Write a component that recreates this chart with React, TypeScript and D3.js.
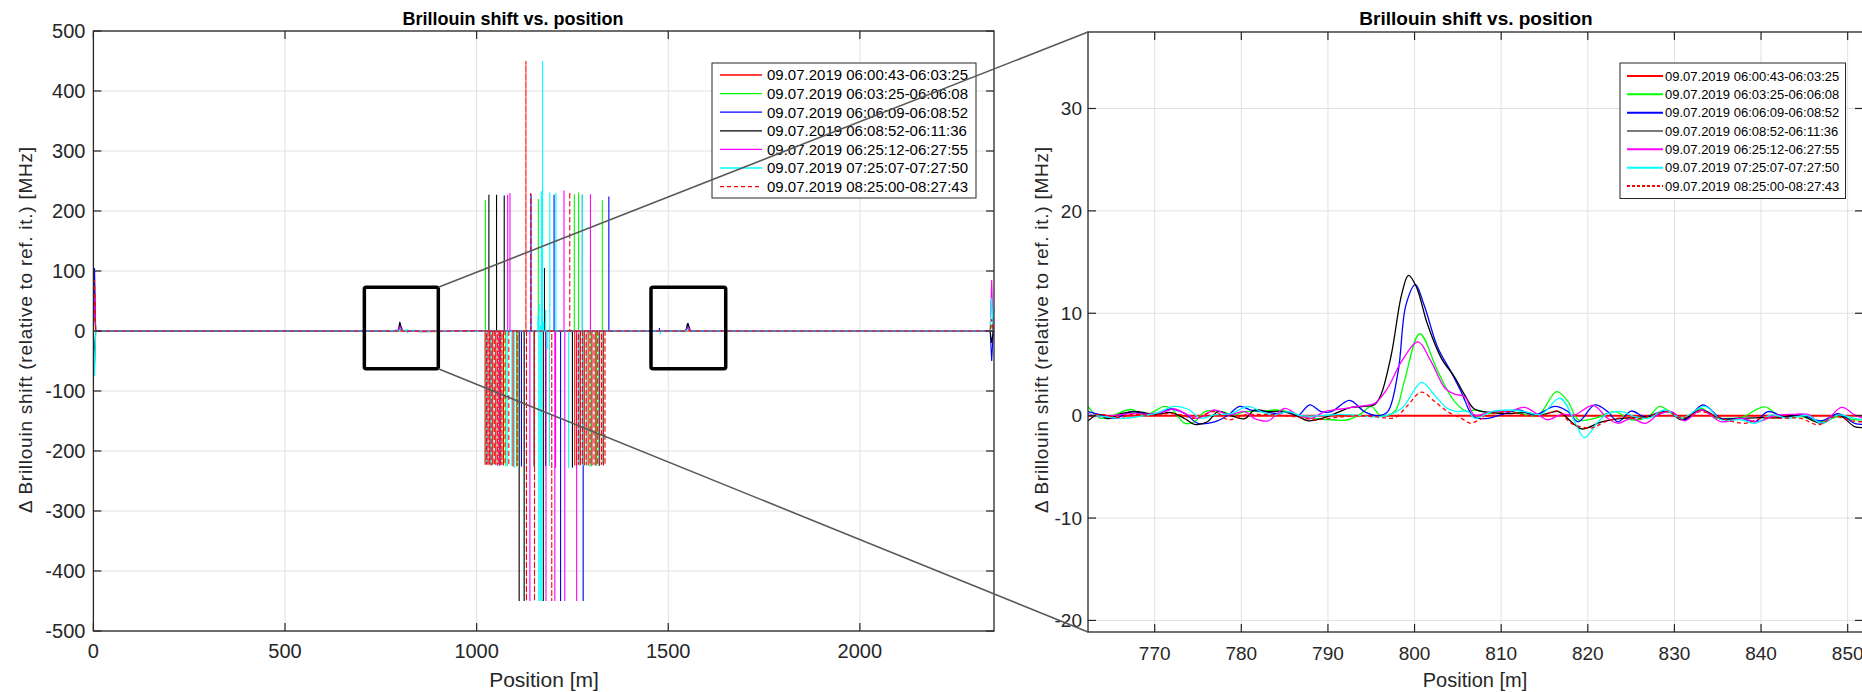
import React, { useEffect, useRef } from "react";
import * as d3 from "d3";

type Pt = [number, number];

const LEGEND_LABELS = [
  "09.07.2019 06:00:43-06:03:25",
  "09.07.2019 06:03:25-06:06:08",
  "09.07.2019 06:06:09-06:08:52",
  "09.07.2019 06:08:52-06:11:36",
  "09.07.2019 06:25:12-06:27:55",
  "09.07.2019 07:25:07-07:27:50",
  "09.07.2019 08:25:00-08:27:43",
];
const COLORS = ["#ff0000", "#00ff00", "#0000ff", "#000000", "#ff00ff", "#00ffff", "#ff0000"];
const DASHED = [false, false, false, false, false, false, true];

const OVERVIEW_X_TICKS = [0, 500, 1000, 1500, 2000];
const OVERVIEW_Y_TICKS = [-500, -400, -300, -200, -100, 0, 100, 200, 300, 400, 500];
const DETAIL_X_TICKS = [770, 780, 790, 800, 810, 820, 830, 840, 850];
const DETAIL_Y_TICKS = [-20, -10, 0, 10, 20, 30];

// zoomed section, position [m] / shift [MHz]
const DETAIL_RED: Pt[] = [[762.3, 0], [851.8, 0]];
const DETAIL_GREEN: Pt[] = [[762.3,0.9],[763.8,-0.26],[767.3,0.6],[768.8,0],[771.1,0.9],[771.9,0.7],[773.5,-0.75],[774.6,-0.6],[775.8,0.4],[777.7,0.4],[779.2,0.07],[780.4,0.4],[782.3,0.4],[783.8,0.55],[785.4,0.4],[786.9,-0.1],[789.2,-0.33],[792.3,-0.4],[793.8,0.2],[795.0,0.9],[796.1,0],[797.7,0.4],[798.8,3.3],[800.6,8.0],[802.7,4.3],[804.6,1.4],[806.1,0.4],[807.0,0.55],[808.9,0.2],[810.8,0.45],[812.7,0.1],[814.3,0.07],[816.4,2.35],[817.7,1.4],[818.9,-0.4],[820.8,-0.26],[823.1,0.4],[825.0,-0.4],[827.0,-0.1],[828.3,0.9],[830.0,0.07],[831.2,-0.26],[833.1,0.7],[834.6,-0.2],[836.2,-0.26],[837.7,-0.2],[840.4,0.85],[842.3,-0.1],[844.6,-0.1],[847.0,-0.6],[848.9,-0.1],[850.8,-0.4],[851.8,-0.4]];
const DETAIL_BLUE: Pt[] = [[762.3,0.4],[763.8,0.07],[765.4,-0.26],[767.3,0.4],[768.8,0.2],[770.4,0.2],[771.9,0.65],[773.5,0.2],[775.0,-0.75],[776.9,-0.6],[778.5,0.07],[779.8,0.9],[781.1,0.55],[782.7,0.4],[784.2,0.2],[785.4,0.4],[786.5,0],[787.9,1.05],[789.2,0.4],[790.4,0.4],[792.5,1.5],[794.2,0.4],[795.8,0],[796.9,0.4],[798.1,4.3],[799.0,10.8],[800.1,12.8],[801.1,10.8],[802.7,6.6],[804.2,4.3],[805.4,2.3],[806.5,0.2],[807.0,-0.2],[808.5,-0.26],[810.4,0.2],[812.0,0.55],[813.9,0.07],[816.2,0.9],[817.7,0.4],[818.9,-0.6],[820.8,1.05],[822.3,0.4],[823.5,-0.6],[825.0,0.45],[826.6,-0.1],[828.5,0.4],[829.6,0.4],[831.2,-0.4],[833.3,1.05],[835.4,-0.26],[837.7,-0.26],[839.3,-0.6],[840.8,0.4],[842.7,-0.1],[844.6,0.07],[847.0,-0.5],[848.9,0.2],[850.8,-0.75],[851.8,-0.85]];
const DETAIL_BLACK: Pt[] = [[762.3,-0.5],[763.5,0.1],[764.6,-0.3],[766.1,0.2],[768.1,0.4],[770.0,0.1],[771.9,0.3],[773.5,-0.3],[774.6,-0.85],[776.1,-0.6],[777.3,0.4],[778.8,0],[780.4,-0.3],[781.5,0.55],[783.1,0.4],[784.6,0.4],[786.1,0.1],[787.7,-0.5],[789.2,-0.3],[790.8,0.2],[792.7,0.8],[794.2,0.9],[795.4,1.1],[796.1,2.0],[797.3,5.9],[798.5,11.8],[799.3,13.7],[800.2,12.6],[801.5,8.9],[803.1,5.6],[804.6,3.8],[805.8,2.0],[806.9,0.65],[808.9,0.3],[810.8,0.2],[812.7,0.3],[814.6,0.07],[816.6,0.4],[818.1,-0.6],[819.3,-1.3],[821.6,-0.6],[823.9,-0.26],[825.4,-0.2],[827.7,0],[829.3,0.4],[830.8,-0.4],[833.1,0.55],[835.4,-0.33],[837.7,-0.26],[840.0,-0.2],[842.3,-0.2],[844.3,0.1],[847.0,-0.75],[848.9,0.07],[850.8,-1.07],[851.8,-1.17]];
const DETAIL_MAGENTA: Pt[] = [[762.3,0.2],[763.8,-0.1],[765.8,0.07],[767.3,0.2],[769.2,0.13],[771.1,0.4],[772.3,0.65],[773.8,0.07],[775.0,-0.26],[776.9,0.55],[778.5,0.07],[780.4,0.4],[781.5,-0.26],[783.1,-0.5],[785.0,0.7],[786.5,0.07],[788.1,-0.26],[789.6,0.4],[791.5,0.65],[793.5,0.9],[795.4,1.2],[796.9,2.7],[798.5,5.3],[800.4,7.2],[801.9,5.3],[803.5,2.7],[804.6,2.1],[805.8,1.85],[806.9,0.07],[808.9,0.4],[810.8,0.4],[812.7,0.8],[814.6,-0.1],[815.4,-0.4],[817.0,0.13],[818.5,0.07],[820.6,1.0],[822.3,-0.26],[823.5,-0.75],[825.0,-0.26],[826.6,-0.75],[828.1,0.07],[829.6,0.4],[831.2,-0.5],[833.1,0.55],[835.4,-0.6],[837.7,-0.26],[839.6,-0.6],[841.6,0],[843.9,0.13],[845.4,0.13],[847.0,-0.75],[849.3,0.8],[850.8,0.07],[851.8,-0.26]];
const DETAIL_CYAN: Pt[] = [[762.3,0.07],[764.2,-0.1],[766.1,-0.26],[768.1,-0.1],[770.0,0.2],[772.3,0.9],[773.8,0.65],[775.4,-0.26],[776.9,0.07],[778.8,0.2],[780.8,0.9],[782.3,0.4],[783.8,0.07],[785.4,0.4],[786.9,0],[789.2,0],[791.5,0.13],[793.8,0],[796.1,-0.1],[798.5,0.7],[800.8,3.25],[802.3,2.0],[803.8,0.7],[805.0,0.4],[806.1,0.45],[807.0,-0.26],[808.9,0.4],[810.8,0.55],[812.7,0.4],[814.6,0.13],[816.8,1.7],[818.5,-0.6],[819.6,-2.15],[821.2,-0.6],[822.3,0.2],[823.9,0.4],[825.4,-0.1],[827.0,-0.26],[828.9,0.55],[830.8,-0.26],[833.5,0.9],[835.4,-0.4],[837.7,-0.4],[839.3,-0.75],[841.2,0.07],[843.1,-0.26],[845.4,0],[847.0,-0.75],[848.9,0.07],[850.8,-0.26],[851.8,-0.4]];
const DETAIL_REDDASH: Pt[] = [[762.3,-0.1],[763.8,0.13],[765.8,-0.2],[767.7,0.13],[769.6,0],[771.5,0.2],[773.1,0.07],[774.6,-0.26],[776.9,0.4],[778.5,-0.4],[780.4,0.07],[782.3,0.13],[784.2,0.07],[786.1,-0.1],[788.5,-0.4],[790.8,-0.2],[793.1,0],[795.4,-0.1],[797.7,-0.2],[799.2,1.0],[800.8,2.3],[802.3,1.4],[803.8,0.4],[805.4,-0.26],[806.5,-0.75],[807.0,-0.6],[808.9,0.13],[810.8,0.4],[812.7,0.07],[814.6,0],[816.6,0.45],[818.1,-0.75],[820.4,-1.2],[822.0,-0.6],[823.9,-0.2],[826.2,-0.26],[827.7,0.13],[829.3,0.4],[830.8,-0.26],[833.1,0.4],[835.4,-0.26],[838.1,-0.75],[840.0,-0.26],[842.3,-0.26],[844.6,-0.26],[846.6,-0.9],[848.5,-0.1],[850.4,-0.5],[851.8,-0.6]];

// spikes in the overview: [position, value]
const SPIKES_RED: Pt[] = [];
const SPIKES_GREEN: Pt[] = [[1023,218],[1076,-225],[1104,-226],[1161,220],[1255,228],[1266,231],[1296,-226],[1313,-224],[1328,218]];
const SPIKES_BLUE: Pt[] = [[1117,-226],[1142,228],[1202,227],[1219,-450],[1278,-450],[1320,-225],[1345,224],[1477,5]];
const SPIKES_BLACK: Pt[] = [[1032,227],[1052,227],[1072,226],[1111,-450],[1124,-450],[1150,-226],[1174,-450],[1177,105],[1180,-225],[1250,-228],[1276,227]];
const SPIKES_MAGENTA: Pt[] = [[1060,-225],[1081,227],[1087,230],[1139,-450],[1181,-450],[1204,-450],[1206,-228],[1228,234],[1230,-450],[1261,-450],[1297,228]];
const SPIKES_CYAN: Pt[] = [[1024,-222],[1028,-222],[1036,-223],[1040,-224],[1048,-224],[1056,-224],[1064,-223],[1070,-222],[1080,-226],[1092,-225],[1098,-228],[1160,25],[1162,-450],[1163,45],[1166,-450],[1167,10],[1169,233],[1170,-450],[1171,40],[1172,450],[1175,15],[1180,35],[1184,-30],[1190,-225],[1191,231],[1207,230],[1240,-228],[1268,-224],[1276,227],[1279,-224],[1286,-225],[1300,-226],[1309,-224],[1318,-224],[1328,-223],[1479,-6]];
const SPIKES_REDDASH: Pt[] = [[1022,-223],[1026,-223],[1030,-224],[1034,-223],[1038,-224],[1042,-223],[1046,-224],[1050,-223],[1054,-224],[1058,-223],[1062,-224],[1066,-223],[1070,-224],[1074,-223],[1084,-224],[1095,-226],[1106,-225],[1128.6,450],[1130,-450],[1141,230],[1151,-450],[1196,-450],[1243,232],[1256,-224],[1261,-224],[1266,-223],[1271,-224],[1276,-223],[1281,-224],[1286,-223],[1291,-224],[1296,-223],[1301,-224],[1306,-223],[1311,-224],[1316,-223],[1321,-224],[1326,-223],[1331,-224],[1335,-223]];

// fibre ends
const EDGE_START = [0, 40, 105, -55, 60, -75, 85];
const EDGE_END = [0, 10, -50, -20, 85, 55, 20];

// second heated section
const PEAK2_X = [1544, 1548, 1550, 1552, 1555, 1558];
const PEAK2_RED = [0, 0, 0, 0, 0, 0];
const PEAK2_GREEN = [0, 2, 6, 7.5, 3, 0];
const PEAK2_BLUE = [0, 3, 10, 12, 5, 0];
const PEAK2_BLACK = [0, 4, 12, 11, 4, 0];
const PEAK2_MAGENTA = [0, 2, 5, 6.5, 3, 0];
const PEAK2_CYAN = [0, 1, 2, 3, 1, 0];
const PEAK2_REDDASH = [0, 0.5, 1.5, 2, 0.5, 0];

const ZOOM_BOXES: Pt[] = [[707, 900], [1455, 1650]];
const BOX_Y: Pt = [-63, 73];

const DETAIL = [DETAIL_RED, DETAIL_GREEN, DETAIL_BLUE, DETAIL_BLACK, DETAIL_MAGENTA, DETAIL_CYAN, DETAIL_REDDASH];
const SPIKES = [SPIKES_RED, SPIKES_GREEN, SPIKES_BLUE, SPIKES_BLACK, SPIKES_MAGENTA, SPIKES_CYAN, SPIKES_REDDASH];
const PEAK2 = [PEAK2_RED, PEAK2_GREEN, PEAK2_BLUE, PEAK2_BLACK, PEAK2_MAGENTA, PEAK2_CYAN, PEAK2_REDDASH];

const AXIS = "#262626";
const GRID = "#e1e1e1";
const FONT = "'Liberation Sans', Arial, sans-serif";

function overviewSeries(i: number): Pt[] {
  const pts: Pt[] = [[0, 0], [3, EDGE_START[i]], [6, 0], ...DETAIL[i]];
  PEAK2_X.forEach((x, k) => pts.push([x, PEAK2[i][k]]));
  SPIKES[i].forEach(([x, v]) => pts.push([x, 0], [x, v], [x, 0]));
  pts.push([2340, 0], [2344, EDGE_END[i]], [2348, 0]);
  return pts.sort((a, b) => a[0] - b[0]);
}

function drawGrid(g: any, x: any, y: any, xt: number[], yt: number[]) {
  const [l, r] = x.range();
  const [b, t] = y.range();
  g.append("g")
    .selectAll("line")
    .data(xt)
    .join("line")
    .attr("x1", (d: number) => x(d))
    .attr("x2", (d: number) => x(d))
    .attr("y1", t)
    .attr("y2", b)
    .attr("stroke", GRID);
  g.append("g")
    .selectAll("line")
    .data(yt)
    .join("line")
    .attr("x1", l)
    .attr("x2", r)
    .attr("y1", (d: number) => y(d))
    .attr("y2", (d: number) => y(d))
    .attr("stroke", GRID);
}

function drawFrame(g: any, x: any, y: any, xt: number[], yt: number[], font: number, xDy: number, yDx: number) {
  const [l, r] = x.range();
  const [b, t] = y.range();
  const tick = 8;
  g.append("rect")
    .attr("x", l)
    .attr("y", t)
    .attr("width", r - l)
    .attr("height", b - t)
    .attr("fill", "none")
    .attr("stroke", AXIS)
    .attr("stroke-width", 1.3);
  const ticks = g.append("g").attr("stroke", AXIS).attr("stroke-width", 1.2);
  xt.forEach((v) => {
    ticks.append("line").attr("x1", x(v)).attr("x2", x(v)).attr("y1", b).attr("y2", b - tick);
    ticks.append("line").attr("x1", x(v)).attr("x2", x(v)).attr("y1", t).attr("y2", t + tick);
  });
  yt.forEach((v) => {
    ticks.append("line").attr("x1", l).attr("x2", l + tick).attr("y1", y(v)).attr("y2", y(v));
    ticks.append("line").attr("x1", r).attr("x2", r - tick).attr("y1", y(v)).attr("y2", y(v));
  });
  g.append("g")
    .selectAll("text")
    .data(xt)
    .join("text")
    .attr("x", (d: number) => x(d))
    .attr("y", b + xDy)
    .attr("text-anchor", "middle")
    .attr("font-size", font)
    .attr("fill", AXIS)
    .text((d: number) => String(d));
  g.append("g")
    .selectAll("text")
    .data(yt)
    .join("text")
    .attr("x", l - yDx)
    .attr("y", (d: number) => y(d))
    .attr("dy", "0.36em")
    .attr("text-anchor", "end")
    .attr("font-size", font)
    .attr("fill", AXIS)
    .text((d: number) => String(d));
}

function drawLegend(g: any, o: any) {
  g.append("rect")
    .attr("x", o.x)
    .attr("y", o.y)
    .attr("width", o.w)
    .attr("height", o.h)
    .attr("fill", "#fff")
    .attr("stroke", AXIS)
    .attr("stroke-width", 1);
  LEGEND_LABELS.forEach((label, i) => {
    const cy = o.row0 + i * o.step;
    g.append("line")
      .attr("x1", o.x + o.l0)
      .attr("x2", o.x + o.l1)
      .attr("y1", cy)
      .attr("y2", cy)
      .attr("stroke", o.colors[i])
      .attr("stroke-width", o.lw)
      .attr("stroke-dasharray", DASHED[i] ? o.dash : null);
    g.append("text")
      .attr("x", o.x + o.tx)
      .attr("y", cy)
      .attr("dy", "0.36em")
      .attr("font-size", o.font)
      .attr("fill", "#000")
      .text(label);
  });
}

function draw(svg: any) {
  const xL = d3.scaleLinear().domain([0, 2350]).range([93.4, 994]);
  const yL = d3.scaleLinear().domain([-500, 500]).range([631, 31]);
  const xR = d3.scaleLinear().domain([762.3, 851.77]).range([1088, 1863]);
  const yR = d3.scaleLinear().domain([-21.13, 37.47]).range([632, 32]);

  const defs = svg.append("defs");
  defs.append("clipPath").attr("id", "clipL").append("rect")
    .attr("x", 93.4).attr("y", 31).attr("width", 994 - 93.4).attr("height", 600);
  defs.append("clipPath").attr("id", "clipR").append("rect")
    .attr("x", 1088).attr("y", 32).attr("width", 1863 - 1088).attr("height", 600);

  svg.append("rect").attr("width", 1862).attr("height", 692).attr("fill", "#fff");

  // Overview panel
  const gL = svg.append("g");
  drawGrid(gL, xL, yL, OVERVIEW_X_TICKS, OVERVIEW_Y_TICKS);
  const lineL = d3.line<Pt>().x((d) => xL(d[0])).y((d) => yL(d[1]));
  const dataL = gL.append("g").attr("clip-path", "url(#clipL)");
  COLORS.forEach((c, i) => {
    dataL.append("path")
      .datum(overviewSeries(i))
      .attr("fill", "none")
      .attr("stroke", c)
      .attr("stroke-width", 1.1)
      .attr("stroke-dasharray", DASHED[i] ? "5,3" : null)
      .attr("d", lineL);
  });
  ZOOM_BOXES.forEach(([a, b]) => {
    gL.append("rect")
      .attr("x", xL(a))
      .attr("y", yL(BOX_Y[1]))
      .attr("width", xL(b) - xL(a))
      .attr("height", yL(BOX_Y[0]) - yL(BOX_Y[1]))
      .attr("rx", 2)
      .attr("fill", "none")
      .attr("stroke", "#000")
      .attr("stroke-width", 3.5);
  });
  drawFrame(gL, xL, yL, OVERVIEW_X_TICKS, OVERVIEW_Y_TICKS, 20, 27, 8);
  drawLegend(gL, {
    x: 712, y: 63, w: 264, h: 135, row0: 75, step: 18.6,
    l0: 8, l1: 50, tx: 55, font: 15, lw: 1.3, dash: "4,3", colors: COLORS,
  });
  gL.append("text")
    .attr("x", 513)
    .attr("y", 25)
    .attr("text-anchor", "middle")
    .attr("font-size", 18)
    .attr("font-weight", "bold")
    .text("Brillouin shift vs. position");
  gL.append("text")
    .attr("x", 544)
    .attr("y", 687)
    .attr("text-anchor", "middle")
    .attr("font-size", 21)
    .attr("fill", AXIS)
    .text("Position [m]");
  gL.append("text")
    .attr("transform", "translate(32,330) rotate(-90)")
    .attr("text-anchor", "middle")
    .attr("font-size", 19)
    .attr("fill", AXIS)
    .attr("textLength", 366)
    .attr("lengthAdjust", "spacing")
    .text("\u0394 Brillouin shift (relative to ref. it.) [MHz]");

  // Detail panel
  const gR = svg.append("g");
  drawGrid(gR, xR, yR, DETAIL_X_TICKS, DETAIL_Y_TICKS);
  const lineR = d3.line<Pt>().x((d) => xR(d[0])).y((d) => yR(d[1])).curve(d3.curveCatmullRom.alpha(0.5));
  const dataR = gR.append("g").attr("clip-path", "url(#clipR)");
  COLORS.forEach((c, i) => {
    dataR.append("path")
      .datum(DETAIL[i])
      .attr("fill", "none")
      .attr("stroke", c)
      .attr("stroke-width", i === 0 ? 2 : 1.3)
      .attr("stroke-dasharray", DASHED[i] ? "4,3" : null)
      .attr("d", lineR);
  });
  drawFrame(gR, xR, yR, DETAIL_X_TICKS, DETAIL_Y_TICKS, 19, 28, 6);
  drawLegend(gR, {
    x: 1620, y: 63, w: 225.5, h: 135.5, row0: 76, step: 18.33,
    l0: 7, l1: 43, tx: 45, font: 13, lw: 2, dash: "3,2",
    colors: ["#ff0000", "#00ff00", "#0000ff", "#7a7a7a", "#ff00ff", "#00ffff", "#ff0000"],
  });
  gR.append("text")
    .attr("x", 1476)
    .attr("y", 25)
    .attr("text-anchor", "middle")
    .attr("font-size", 19)
    .attr("font-weight", "bold")
    .text("Brillouin shift vs. position");
  gR.append("text")
    .attr("x", 1475)
    .attr("y", 687)
    .attr("text-anchor", "middle")
    .attr("font-size", 20)
    .attr("fill", AXIS)
    .text("Position [m]");
  gR.append("text")
    .attr("transform", "translate(1048,330) rotate(-90)")
    .attr("text-anchor", "middle")
    .attr("font-size", 19)
    .attr("fill", AXIS)
    .attr("textLength", 366)
    .attr("lengthAdjust", "spacing")
    .text("\u0394 Brillouin shift (relative to ref. it.) [MHz]");

  // Connectors from the first box to the detail panel
  const box = ZOOM_BOXES[0];
  [[BOX_Y[1], yR.range()[1]], [BOX_Y[0], yR.range()[0]]].forEach(([by, ry]) => {
    svg.append("line")
      .attr("x1", xL(box[1]))
      .attr("y1", yL(by))
      .attr("x2", xR.range()[0])
      .attr("y2", ry)
      .attr("stroke", "#595959")
      .attr("stroke-width", 1.6);
  });
}

export default function App() {
  const svgRef = useRef<SVGSVGElement>(null);

  useEffect(() => {
    const svg = d3.select(svgRef.current);
    svg.selectAll("*").remove();
    draw(svg);
  }, []);

  return (
    <svg
      ref={svgRef}
      width={1862}
      height={692}
      fontFamily={FONT}
      style={{ position: "absolute", left: 0, top: 0, display: "block" }}
    />
  );
}
